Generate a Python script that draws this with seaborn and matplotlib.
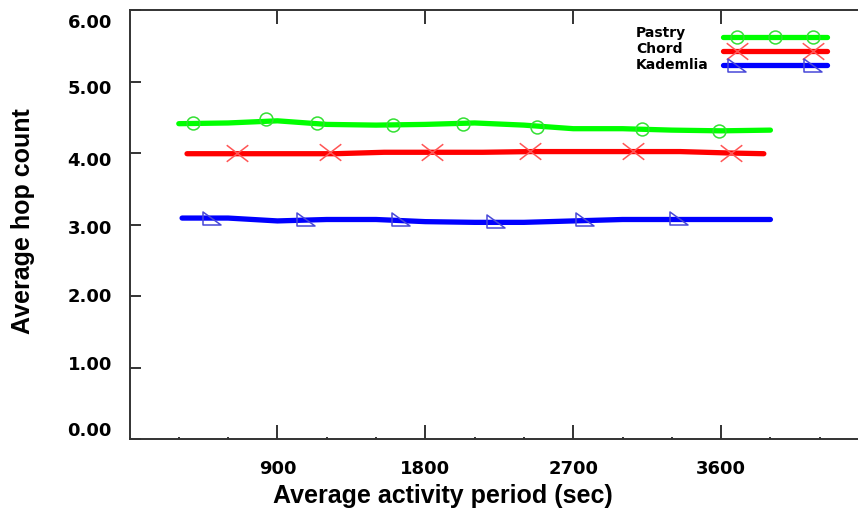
import numpy as np
import pandas as pd
import matplotlib
matplotlib.use("Agg")
import matplotlib.pyplot as plt
import matplotlib.transforms as mtrans
import seaborn as sns
from matplotlib.path import Path
from matplotlib.lines import Line2D
from matplotlib.legend_handler import HandlerLine2D, HandlerTuple
from matplotlib.ticker import MultipleLocator, FixedLocator

# ---------------- data ----------------
series_names = ["Pastry", "Chord", "Kademlia"]

pastry_x = [300, 600, 900, 1200, 1500, 1800, 2100, 2400, 2700, 3000, 3300, 3600, 3900]
pastry_y = [4.41, 4.42, 4.45, 4.40, 4.39, 4.40, 4.42, 4.39, 4.34, 4.34, 4.32, 4.31, 4.32]

chord_x = [350, 650, 950, 1250, 1550, 1850, 2150, 2450, 2750, 3050, 3350, 3650, 3860]
chord_y = [3.99, 3.99, 3.99, 3.99, 4.01, 4.01, 4.01, 4.02, 4.02, 4.02, 4.02, 4.00, 3.99]

kad_x = [320, 600, 900, 1200, 1500, 1800, 2100, 2400, 2700, 3000, 3300, 3600, 3900]
kad_y = [3.09, 3.09, 3.05, 3.07, 3.07, 3.04, 3.03, 3.03, 3.05, 3.07, 3.07, 3.07, 3.07]

# marker positions (sampled points)
pastry_mx = [386, 830, 1140, 1602, 2028, 2478, 3117, 3585]
pastry_my = [4.42, 4.48, 4.42, 4.39, 4.41, 4.37, 4.34, 4.31]
chord_mx = [654, 1219, 1840, 2436, 3062, 3658]
chord_my = [4.00, 4.01, 4.01, 4.03, 4.03, 4.00]
kad_mx = [502, 1073, 1651, 2229, 2770, 3341]
kad_my = [3.09, 3.07, 3.08, 3.05, 3.08, 3.09]

x_ticks = [900, 1800, 2700, 3600]
y_ticks = [0, 1, 2, 3, 4, 5, 6]

# ---------------- style ----------------
sns.set_style("white")
plt.rcParams["font.family"] = ["Liberation Sans", "DejaVu Sans"]

line_colors = {"Pastry": "#00ff00", "Chord": "#ff0000", "Kademlia": "#0000ff"}
mark_colors = {"Pastry": "#33e033", "Chord": "#ff5555", "Kademlia": "#4848d8"}

x_marker = Path([(-1, -0.77), (1, 0.77), (-1, 0.77), (1, -0.77)],
                [Path.MOVETO, Path.LINETO, Path.MOVETO, Path.LINETO])
tri_marker = Path([(-1, 0.72), (-1, -0.72), (1, -0.72), (-1, 0.72)],
                  [Path.MOVETO, Path.LINETO, Path.LINETO, Path.CLOSEPOLY])
markers = {"Pastry": ("o", 9.3), "Chord": (x_marker, 15.5), "Kademlia": (tri_marker, 13)}

fig = plt.figure(figsize=(8.58, 5.20), dpi=100)
ax = fig.add_axes([129.5 / 858, 81 / 520, 728.5 / 858, 429 / 520])

lines_df = pd.concat([
    pd.DataFrame({"x": pastry_x, "y": pastry_y, "s": "Pastry"}),
    pd.DataFrame({"x": chord_x, "y": chord_y, "s": "Chord"}),
    pd.DataFrame({"x": kad_x, "y": kad_y, "s": "Kademlia"}),
])
marks_df = pd.concat([
    pd.DataFrame({"x": pastry_mx, "y": pastry_my, "s": "Pastry"}),
    pd.DataFrame({"x": chord_mx, "y": chord_my, "s": "Chord"}),
    pd.DataFrame({"x": kad_mx, "y": kad_my, "s": "Kademlia"}),
])

LW = 3.8
for name in series_names:
    d = lines_df[lines_df.s == name]
    sns.lineplot(data=d, x="x", y="y", ax=ax, color=line_colors[name], lw=LW,
                 solid_capstyle="round", errorbar=None, sort=True, legend=False)
for name in series_names:
    d = marks_df[marks_df.s == name]
    m, ms = markers[name]
    sns.lineplot(data=d, x="x", y="y", ax=ax, linestyle="", marker=m, markersize=ms,
                 markerfacecolor="none", markeredgecolor=mark_colors[name],
                 markeredgewidth=1.1, errorbar=None, legend=False, color=mark_colors[name])

# ---------------- axes ----------------
ax.set_xlim(0, 4433)
ax.set_ylim(0, 6)
ax.xaxis.set_major_locator(FixedLocator(x_ticks))
ax.xaxis.set_minor_locator(MultipleLocator(300))
ax.yaxis.set_major_locator(FixedLocator(y_ticks))
ax.set_xticklabels([str(v) for v in x_ticks])
ax.set_yticklabels([f"{v:.2f}" for v in y_ticks])

spine_c = "#333333"
for side in ["left", "bottom", "top"]:
    ax.spines[side].set_visible(True)
    ax.spines[side].set_color(spine_c)
    ax.spines[side].set_linewidth(1.4)
ax.spines["right"].set_visible(False)

ax.tick_params(axis="x", which="major", direction="in", length=10, width=1.4,
               color=spine_c, top=True, bottom=True, pad=15)
ax.tick_params(axis="x", which="minor", direction="in", length=1.5, width=1.4,
               color=spine_c, top=False, bottom=True)
ax.tick_params(axis="y", which="major", direction="in", length=8, width=1.4,
               color=spine_c, left=True, right=False, pad=12.6)
for lab in ax.get_xticklabels() + ax.get_yticklabels():
    lab.set_fontfamily("DejaVu Sans")
    lab.set_fontweight("bold")
    lab.set_fontsize(13)
    lab.set_color("black")

# the original's y tick labels sit on a slightly compressed scale (pixel offsets, down = +)
ylab_shift_px = [-10, -4.5, -1, 2, 6.5, 5.5, 10.5]
for lab, dy in zip(ax.get_yticklabels(), ylab_shift_px):
    lab.set_transform(lab.get_transform() +
                      mtrans.ScaledTranslation(0, -dy / 100, fig.dpi_scale_trans))

ax.set_xlabel("Average activity period (sec)", fontsize=18, fontweight="bold",
              family=["Liberation Sans", "DejaVu Sans"], va="baseline", color="black")
ax.xaxis.set_label_coords(0.43, -0.149)
ax.set_ylabel("Average hop count", fontsize=18, fontweight="bold",
              family=["Liberation Sans", "DejaVu Sans"], va="baseline", color="black")
ax.yaxis.set_label_coords(-0.137, 0.507)

# ---------------- legend ----------------
fs_leg = 8
fs_px = fs_leg * 100 / 72
handles = []
hmap = {}
for name, npts in zip(series_names, [3, 2, 2]):
    ln = Line2D([], [], color=line_colors[name], lw=LW, solid_capstyle="round")
    m, ms = markers[name]
    mk = Line2D([], [], linestyle="", marker=m, markersize=ms, markerfacecolor="none",
                markeredgecolor=mark_colors[name], markeredgewidth=1.1)
    hmap[ln] = HandlerLine2D(numpoints=2, marker_pad=0)
    hmap[mk] = HandlerLine2D(numpoints=npts, marker_pad=14 / fs_px)
    handles.append((ln, mk))
hmap[tuple] = HandlerTuple(ndivide=1, pad=0)
leg = ax.legend(handles, ["", "", ""], handler_map=hmap, loc="upper left",
                bbox_to_anchor=(723 / 858, 1 - 33 / 520), bbox_transform=fig.transFigure,
                frameon=False, fontsize=fs_leg, handlelength=104 / fs_px,
                handletextpad=0, borderpad=0, borderaxespad=0, labelspacing=0.37)

label_font = dict(family="DejaVu Sans", weight="bold", size=10, color="black")
for name, yb in zip(series_names, [37, 53, 69]):
    fig.text(636 / 858, 1 - yb / 520, name, ha="left", va="baseline", **label_font)

fig.savefig("out.png", dpi=100, facecolor="white")
